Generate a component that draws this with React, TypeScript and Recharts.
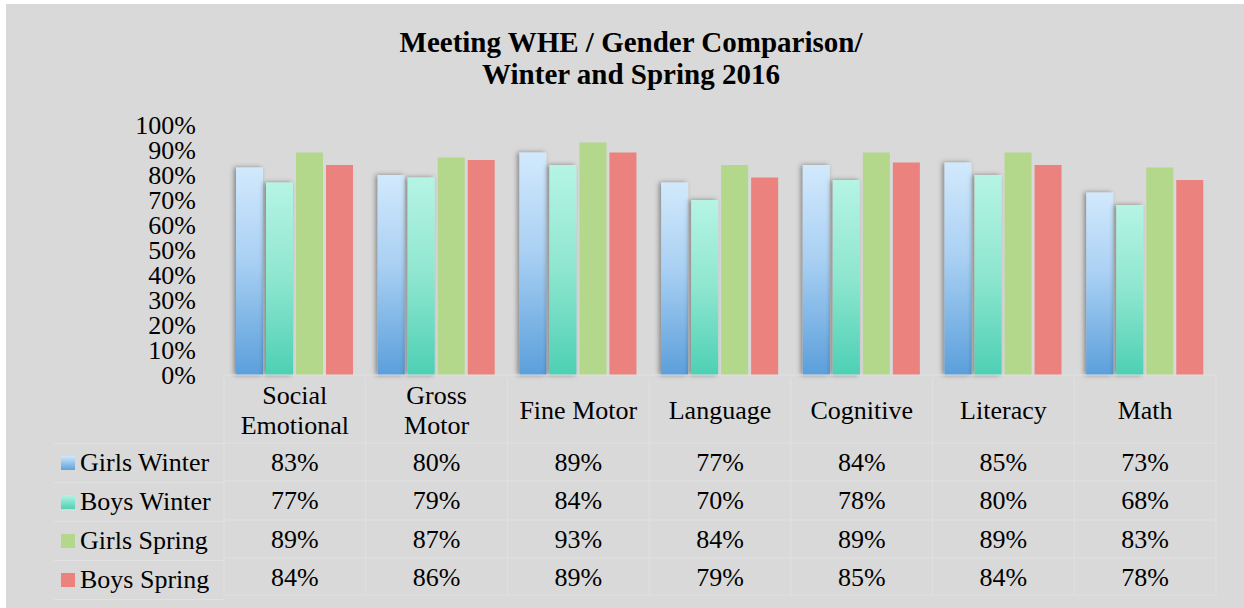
import { Bar, BarChart, XAxis, YAxis } from 'recharts';

const categories = ['Social Emotional', 'Gross Motor', 'Fine Motor', 'Language', 'Cognitive', 'Literacy', 'Math'];
const categoryLines = [['Social', 'Emotional'], ['Gross', 'Motor'], ['Fine Motor'], ['Language'], ['Cognitive'], ['Literacy'], ['Math']];
const seriesNames = ['Girls Winter', 'Boys Winter', 'Girls Spring', 'Boys Spring'];
const girlsWinter = [83, 80, 89, 77, 84, 85, 73];
const boysWinter = [77, 79, 84, 70, 78, 80, 68];
const girlsSpring = [89, 87, 93, 84, 89, 89, 83];
const boysSpring = [84, 86, 89, 79, 85, 84, 78];
const yTicks = [0, 10, 20, 30, 40, 50, 60, 70, 80, 90, 100];

const seriesKeys = ['gw', 'bw', 'gs', 'bs'];
const data = categories.map((name, i) => ({
  name,
  gw: girlsWinter[i],
  bw: boysWinter[i],
  gs: girlsSpring[i],
  bs: boysSpring[i],
}));

const FONT = '"Liberation Serif", "Times New Roman", serif';
const W = 1238;
const H = 604;
const BAND = (1210 - 218) / categories.length;
const ROW_Y = [87, 125, 164, 202];
const GRID = '#e1e1e1';
const FS = 26;

const swatches = [
  'linear-gradient(#cfe7fb, #5ea2dc)',
  'linear-gradient(#b6f3e3, #50d0b4)',
  '#b3d78b',
  '#eb827e',
];

function TableTick(props: any) {
  const { x, y, payload } = props;
  const i = payload.index;
  const lines = categoryLines[i];
  const half = BAND / 2;
  return (
    <g>
      <line x1={x + half} x2={x + half} y1={y + 3} y2={y + 220} stroke={GRID} />
      {i === 0 && <line x1={x - half} x2={x - half} y1={y + 3} y2={y + 220} stroke={GRID} />}
      {[68, 106, 145, 183, 220].map((ly) => (
        <line key={ly} x1={x - half} x2={x + half} y1={y + ly} y2={y + ly} stroke={GRID} />
      ))}
      {lines.map((t, k) => (
        <text
          key={t}
          x={x}
          y={y + (lines.length === 1 ? 35 : 20 + k * 30) + 9}
          textAnchor="middle"
          fontFamily={FONT}
          fontSize={FS}
          fill="#000"
        >
          {t}
        </text>
      ))}
      {seriesKeys.map((k, r) => (
        <text key={k} x={x} y={y + ROW_Y[r] + 9} textAnchor="middle" fontFamily={FONT} fontSize={FS} fill="#000">
          {`${data[i][k as 'gw']}%`}
        </text>
      ))}
    </g>
  );
}

export default function App() {
  return (
    <div style={{ position: 'absolute', left: 6, top: 4, width: W, height: H, background: '#d9d9d9', fontFamily: FONT }}>
      <div
        style={{
          position: 'absolute',
          left: 0,
          width: 1250,
          top: 22,
          textAlign: 'center',
          fontWeight: 'bold',
          fontSize: 29,
          lineHeight: '32px',
          color: '#000',
        }}
      >
        Meeting WHE / Gender Comparison/
        <br />
        Winter and Spring 2016
      </div>
      <BarChart
        width={W}
        height={H}
        data={data}
        margin={{ top: 121, right: 28, left: 0, bottom: 0 }}
        barCategoryGap="8%"
        barGap={3}
      >
        <defs>
          <linearGradient id="gwGrad" x1="0" y1="0" x2="0" y2="1">
            <stop offset="0%" stopColor="#d2e9fc" />
            <stop offset="45%" stopColor="#a9d0f3" />
            <stop offset="100%" stopColor="#5b9fdb" />
          </linearGradient>
          <linearGradient id="bwGrad" x1="0" y1="0" x2="0" y2="1">
            <stop offset="0%" stopColor="#b6f4e4" />
            <stop offset="50%" stopColor="#8ee6cf" />
            <stop offset="100%" stopColor="#4dd0b4" />
          </linearGradient>
          <filter id="shadow" x="-30%" y="-5%" width="160%" height="110%">
            <feDropShadow dx={-2} dy={0} stdDeviation={2.5} floodColor="#000" floodOpacity={0.4} />
          </filter>
        </defs>
        <YAxis
          width={218}
          domain={[0, 100]}
          ticks={yTicks}
          tickFormatter={(v) => `${v}%`}
          axisLine={false}
          tickLine={false}
          tickSize={0}
          tickMargin={28}
          interval={0}
          tick={{ fontFamily: FONT, fontSize: FS, fill: '#000' }}
        />
        <XAxis
          dataKey="name"
          height={H - 371}
          axisLine={{ stroke: GRID }}
          tickLine={false}
          tickSize={0}
          tickMargin={0}
          interval={0}
          tick={<TableTick />}
        />
        <Bar dataKey="gw" name={seriesNames[0]} fill="url(#gwGrad)" barSize={27} filter="url(#shadow)" isAnimationActive={false} />
        <Bar dataKey="bw" name={seriesNames[1]} fill="url(#bwGrad)" barSize={27} filter="url(#shadow)" isAnimationActive={false} />
        <Bar dataKey="gs" name={seriesNames[2]} fill="#b3d78b" barSize={27} isAnimationActive={false} />
        <Bar dataKey="bs" name={seriesNames[3]} fill="#eb827e" barSize={27} isAnimationActive={false} />
      </BarChart>
      <div style={{ position: 'absolute', left: 48, top: 439, width: 170 }}>
        {seriesNames.map((s, r) => (
          <div
            key={s}
            style={{
              height: 38,
              borderTop: `1px solid ${GRID}`,
              borderBottom: r === 3 ? `1px solid ${GRID}` : undefined,
              display: 'flex',
              alignItems: 'center',
              fontSize: FS,
              color: '#000',
              whiteSpace: 'nowrap',
            }}
          >
            <span style={{ display: 'inline-block', width: 14, height: 14, background: swatches[r], marginLeft: 7, marginRight: 5 }} />
            {s}
          </div>
        ))}
      </div>
    </div>
  );
}
